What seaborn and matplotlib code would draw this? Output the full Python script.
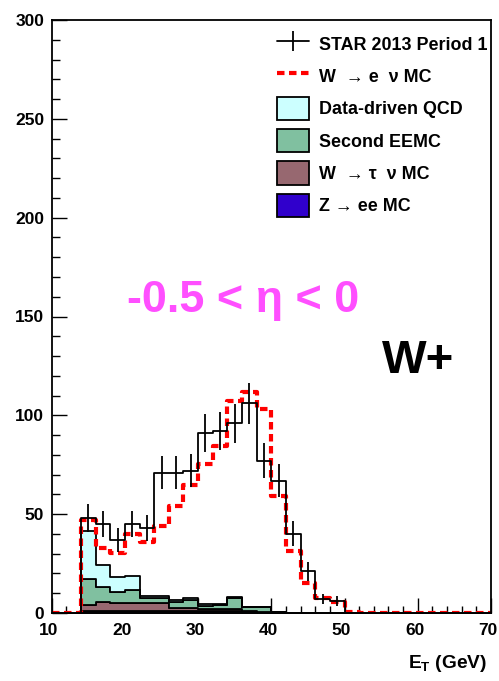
import numpy as np
import pandas as pd
import matplotlib
matplotlib.use('Agg')
import matplotlib.pyplot as plt
import matplotlib.transforms as mtransforms
from matplotlib.lines import Line2D
from matplotlib.patches import Patch
from matplotlib.ticker import MultipleLocator
import seaborn as sns

# ---------------- data (2 GeV bins, 10-70 GeV) ----------------
bin_edges = list(range(10, 72, 2))
data_counts = [0, 0, 48, 45, 37, 45, 43, 71, 71, 72, 91, 92, 96, 106, 77, 67, 40, 21, 7, 6,
               0, 0, 0, 0, 0, 0, 0, 0, 0, 0]
wenu_mc = [0, 0, 47, 33, 30.5, 40, 36, 44, 54, 65, 75.5, 84.5, 107, 112, 103, 59, 31.5, 15, 7.5, 5.5,
           0.7, 0, 0, 0, 0, 0, 0, 0, 0, 0]
qcd = [0, 0, 24.5, 11, 7.5, 7, 1.2, 1.2, 1.0, 1.0, 1.0, 0.3, 0.2, 0.2, 0.2, 0.1, 0, 0, 0, 0,
       0, 0, 0, 0, 0, 0, 0, 0, 0, 0]
eemc = [0, 0, 13, 7.5, 5.6, 6.3, 2.2, 2.2, 3.0, 4.0, 1.3, 2.0, 5.8, 1.8, 2.5, 0.2, 0, 0, 0, 0,
        0, 0, 0, 0, 0, 0, 0, 0, 0, 0]
wtau = [0, 0, 3.2, 4.5, 4.4, 4.4, 4.4, 4.4, 1.7, 1.7, 1.0, 1.0, 1.0, 0.2, 0, 0.1, 0, 0, 0, 0,
        0, 0, 0, 0, 0, 0, 0, 0, 0, 0]
zee = [0, 0, 0.8, 1.2, 0.8, 0.8, 0.8, 0.8, 0.8, 0.8, 1.2, 1.2, 1.0, 0.8, 0.5, 0.1, 0, 0, 0, 0,
       0, 0, 0, 0, 0, 0, 0, 0, 0, 0]

proc_names = ["Data-driven QCD", "Second EEMC", "W  \u2192 \u03c4  \u03bd MC", "Z \u2192 ee MC"]
proc_colors = ["#ccffff", "#80c0a0", "#976870", "#3000cc"]
data_label = "STAR 2013 Period 1"
mc_label = "W  \u2192 e  \u03bd MC"

# ---------------- style ----------------
sns.set_style("ticks", rc={"axes.edgecolor": "black", "xtick.color": "black",
                           "ytick.color": "black", "text.color": "black",
                           "axes.labelcolor": "black"})
plt.rcParams['font.family'] = ['Liberation Sans', 'DejaVu Sans']
plt.rcParams['font.weight'] = 'bold'
plt.rcParams['mathtext.fontset'] = 'custom'
plt.rcParams['mathtext.rm'] = 'Liberation Sans'
plt.rcParams['mathtext.bf'] = 'Liberation Sans:bold'

W, H = 499, 681
fig = plt.figure(figsize=(W / 100, H / 100), dpi=100)
ax = fig.add_axes([51.7 / W, 1 - 613 / H, (491 - 51.7) / W, (613 - 20) / H])

edges = np.array(bin_edges, dtype=float)
centers = (edges[:-1] + edges[1:]) / 2

bkg = pd.DataFrame({
    "et": np.tile(centers, 4),
    "w": np.concatenate([qcd, eemc, wtau, zee]),
    "proc": np.repeat(proc_names, len(centers)),
})
sns.histplot(data=bkg, x="et", weights="w", hue="proc", hue_order=proc_names,
             multiple="stack", bins=bin_edges, element="step", fill=True,
             palette=dict(zip(proc_names, proc_colors)), alpha=1,
             edgecolor="black", linewidth=1.3, legend=False, ax=ax)

sns.histplot(x=centers, weights=wenu_mc, bins=bin_edges, element="step", fill=False,
             color="red", linewidth=3, linestyle=(0, (1.8, 1.08)), ax=ax)

sns.histplot(x=centers, weights=data_counts, bins=bin_edges, element="step", fill=False,
             color="black", linewidth=1.3, ax=ax)
dc = np.array(data_counts, dtype=float)
m = dc > 0
ax.errorbar(centers[m], dc[m], yerr=np.sqrt(dc[m]), fmt="none", ecolor="black",
            elinewidth=1.3, capsize=0)

ax.set_xlim(10, 70)
ax.set_ylim(0, 300)
ax.set_xlabel("")
ax.set_ylabel("")
ax.xaxis.set_major_locator(MultipleLocator(10))
ax.xaxis.set_minor_locator(MultipleLocator(2))
ax.yaxis.set_major_locator(MultipleLocator(50))
ax.yaxis.set_minor_locator(MultipleLocator(10))
ax.tick_params(which="both", direction="in", top=False, right=False, width=1.0)
ax.tick_params(which="major", length=10.8)
ax.tick_params(which="minor", length=5.4)
ax.tick_params(axis="y", pad=5.5, labelsize=12.5)
ax.tick_params(axis="x", pad=7.5, labelsize=12.5)
for s in ax.spines.values():
    s.set_linewidth(1.3)
    s.set_color("black")
    s.set_visible(True)

# shift x tick labels slightly left, as in the reference
shift = mtransforms.ScaledTranslation(-3 / 100, 0, fig.dpi_scale_trans)
for lbl in ax.get_xticklabels():
    lbl.set_transform(lbl.get_transform() + shift)

# legend
handles = [
    Line2D([], [], color="black", lw=1.3, marker="|", markersize=14.4, markeredgewidth=1.3),
    Line2D([], [], color="red", lw=3, linestyle=(0, (1.8, 1.08))),
] + [Patch(facecolor=c, edgecolor="black", linewidth=1.3) for c in proc_colors]
labels = [data_label, mc_label] + proc_names
ax.legend(handles, labels, loc="upper left", bbox_to_anchor=(277.3 / W, 1 - 32.5 / H),
          bbox_transform=fig.transFigure, frameon=False, fontsize=12.9,
          handlelength=1.78, handleheight=1.62, handletextpad=0.55, labelspacing=0.5,
          borderpad=0, borderaxespad=0)

ax.text(20.25, 152.4, "-0.5 < \u03b7 < 0", color="#ff4fff", fontsize=32.4,
        fontweight="bold", ha="left", va="baseline")
ax.text(55.08, 121.2, "W+", color="black", fontsize=34, fontweight="bold",
        ha="left", va="baseline")

fig.text(487 / W, 1 - 664 / H, r"$\mathbf{E_{T}}$ (GeV)", ha="right", va="center",
         fontsize=13.8, fontweight="bold")

fig.savefig("out.png", dpi=100)
